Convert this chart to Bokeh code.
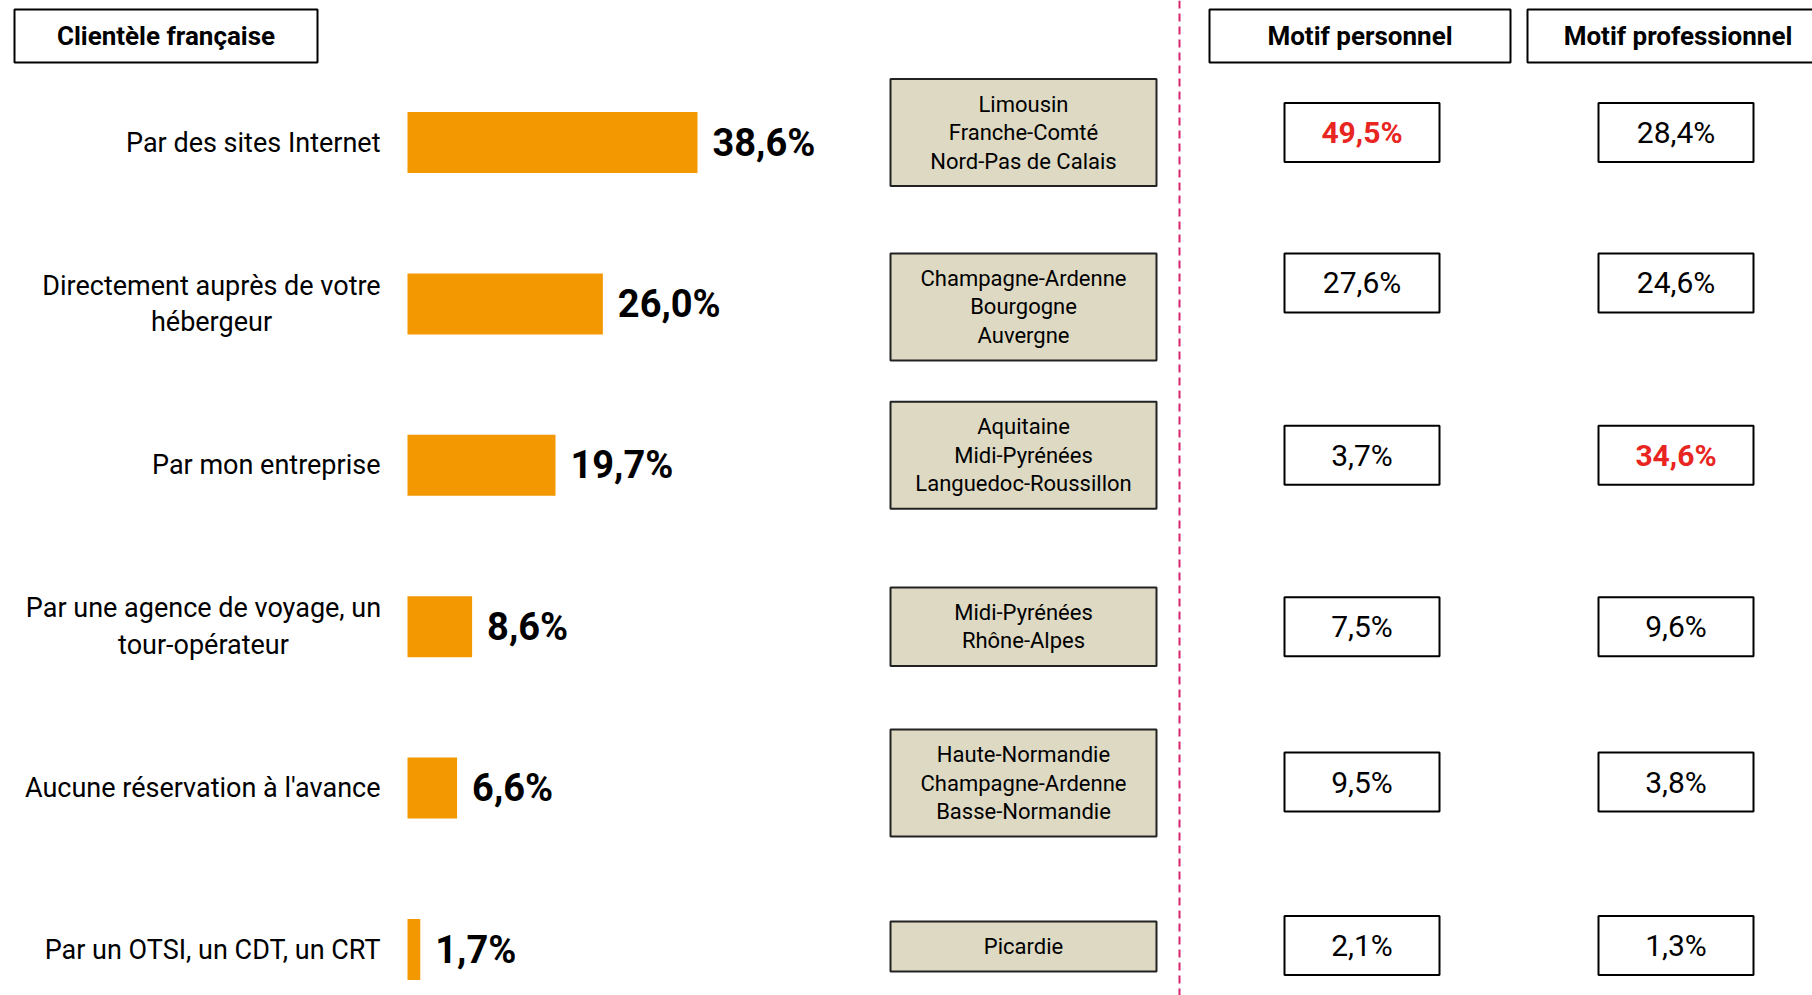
from bokeh.plotting import figure
from bokeh.models import Range1d, Span, ColumnDataSource
from bokeh.core.properties import value
from bokeh.embed import file_html
from bokeh.resources import INLINE

# ---------------- data ----------------
channels = [
    "Par des sites Internet",
    "Directement auprès de votre\nhébergeur",
    "Par mon entreprise",
    "Par une agence de voyage, un\ntour-opérateur",
    "Aucune réservation à l'avance",
    "Par un OTSI, un CDT, un CRT",
]
share_fr = [38.6, 26.0, 19.7, 8.6, 6.6, 1.7]
regions = [
    "Limousin\nFranche-Comté\nNord-Pas de Calais",
    "Champagne-Ardenne\nBourgogne\nAuvergne",
    "Aquitaine\nMidi-Pyrénées\nLanguedoc-Roussillon",
    "Midi-Pyrénées\nRhône-Alpes",
    "Haute-Normandie\nChampagne-Ardenne\nBasse-Normandie",
    "Picardie",
]
motif_perso = [49.5, 27.6, 3.7, 7.5, 9.5, 2.1]
motif_pro = [28.4, 24.6, 34.6, 9.6, 3.8, 1.3]
headers = ["Clientèle française", "Motif personnel", "Motif professionnel"]

# ---------------- layout (not data) ----------------
ROW_PX = 161.4
region_shift_px = [-10, 3, -10, 0, -5, -3]
value_shift_px = [-10, -21, -10, 0, -6, -4]
# multi-line labels are centred inside their block (block right edge at -27px)
label_half_width_px = [0, 169, 0, 177, 0, 0]

def fmt(v):
    return f"{v:.1f}".replace(".", ",") + "%"

FONT = value("Roboto")
ORANGE = "#F39800"
BEIGE = "#DDD9C3"
RED = "#E8251F"

rows = list(range(len(channels)))

W, H = 1812, 995
top = -142 / ROW_PX
p = figure(width=W, height=H, output_backend="svg", toolbar_location=None,
           x_range=Range1d(0, W), y_range=Range1d(top + H / ROW_PX, top),
           min_border=0, outline_line_color=None)
p.axis.visible = False
p.xgrid.visible = False
p.ygrid.visible = False
p.background_fill_color = "white"
p.border_fill_color = "white"

# percentage scale for the bars: 0% at x 407, 7.513 px per %
px_per = 7.513
start = -407 / px_per
p.extra_x_ranges = {"pct": Range1d(start, start + W / px_per)}

# bars
multi = ["\n" in c for c in channels]
src = ColumnDataSource(dict(
    y=rows, v=share_fr, lab=[fmt(v) for v in share_fr], ch=channels,
    al=["center" if m else "right" for m in multi],
    xo=[-27 - hw for hw in label_half_width_px]))
p.hbar(y="y", left=0, right="v", height=61 / ROW_PX, source=src,
       x_range_name="pct", fill_color=ORANGE, line_color=None)
p.text(x="v", y="y", text="lab", source=src, x_range_name="pct",
       x_offset=15, text_align="left", text_baseline="middle",
       text_font=FONT, text_font_style="bold", text_font_size="38px",
       text_color="black")
p.text(x=0, y="y", text="ch", source=src, x_range_name="pct",
       x_offset="xo", text_align="al", text_baseline="middle",
       text_font=FONT, text_font_size="27px", text_color="black",
       text_line_height=1.15)

# header boxes
hy = (35.5 - 142) / ROW_PX
hx = [165.5, 1359.5, 1677.5]
hw = [303, 301, 301]
p.rect(x=hx, y=[hy] * 3, width=hw, height=[53] * 3, width_units="screen",
       height_units="screen", fill_color="white", line_color="black", line_width=2)
p.text(x=hx, y=[hy] * 3, text=headers, text_align="center", text_baseline="middle",
       text_font=FONT, text_font_style="bold", text_font_size="26px",
       text_color="black")

# region boxes
nlines = [r.count("\n") + 1 for r in regions]
ry = [r + s / ROW_PX for r, s in zip(rows, region_shift_px)]
rsrc = ColumnDataSource(dict(y=ry, t=regions,
                             h=[50 + 28.5 * (n - 1) for n in nlines]))
p.rect(x=1023, y="y", width=266, height="h", source=rsrc, width_units="screen",
       height_units="screen", fill_color=BEIGE, line_color="#222222", line_width=2)
p.text(x=1023, y="y", text="t", source=rsrc, text_align="center",
       text_baseline="middle", text_font=FONT, text_font_size="22px",
       text_color="black", text_line_height=1.14)

# dashed separator
p.add_layout(Span(location=1179, dimension="height", line_color="#D6246E",
                  line_dash="8 5", line_width=2))

# motif value boxes
vy = [r + s / ROW_PX for r, s in zip(rows, value_shift_px)]
for cx, vals in [(1361.5, motif_perso), (1675.5, motif_pro)]:
    mx = max(vals)
    is_max = [v == mx for v in vals]
    s = ColumnDataSource(dict(y=vy, t=[fmt(v) for v in vals],
                              c=[RED if m else "black" for m in is_max],
                              st=["bold" if m else "normal" for m in is_max]))
    p.rect(x=cx, y="y", width=155, height=59, source=s, width_units="screen",
           height_units="screen", fill_color="white", line_color="black",
           line_width=2)
    p.text(x=cx, y="y", text="t", text_color="c", text_font_style="st",
           source=s, text_align="center", text_baseline="middle",
           text_font=FONT, text_font_size="30px")

open("out.html", "w").write(file_html(p, INLINE))
